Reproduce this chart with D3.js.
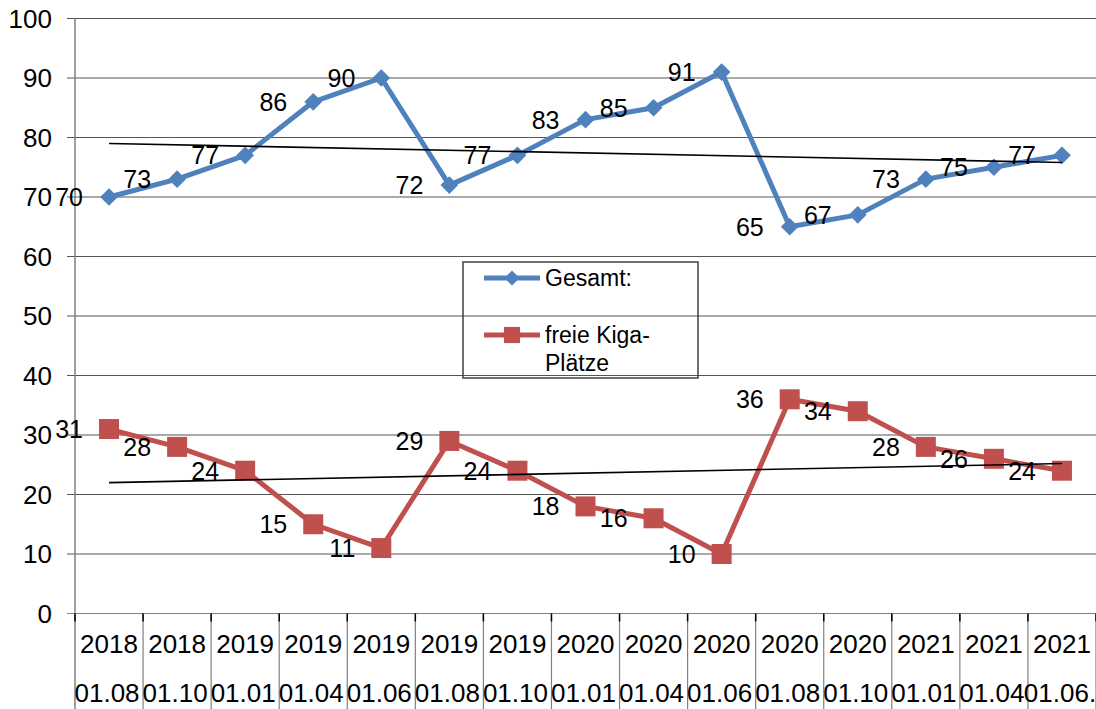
<!DOCTYPE html>
<html>
<head>
<meta charset="utf-8">
<script src="https://cdn.jsdelivr.net/npm/d3@7"></script>
<style>
  body { margin: 0; background: #fff; }
  svg { display: block; font-family: "Liberation Sans", Arial, sans-serif; }
</style>
</head>
<body>
<div id="chart"></div>
<script>
// Data
var years = ["2018", "2018", "2019", "2019", "2019", "2019", "2019", "2020", "2020", "2020", "2020", "2020", "2021", "2021", "2021"];
var dates = ["01.08", "01.10", "01.01", "01.04", "01.06", "01.08", "01.10", "01.01", "01.04", "01.06", "01.08", "01.10", "01.01", "01.04", "01.06."];
var gesamt = [70, 73, 77, 86, 90, 72, 77, 83, 85, 91, 65, 67, 73, 75, 77];
var freie = [31, 28, 24, 15, 11, 29, 24, 18, 16, 10, 36, 34, 28, 26, 24];
var yTicks = [0, 10, 20, 30, 40, 50, 60, 70, 80, 90, 100];

var width = 1096,
    height = 709;

var blue = "#4F81BD",
    red = "#C0504D";

var svg = d3.select("#chart").append("svg")
  .attr("width", width)
  .attr("height", height);

var idx = d3.range(years.length);

var x = d3.scaleBand()
  .domain(idx)
  .range([75, 1096]);

var y = d3.scaleLinear()
  .domain([0, 100])
  .range([613.5, 18.5]);

function cx(i) { return x(i) + x.bandwidth() / 2; }

// gridlines
svg.append("g").selectAll("line")
  .data(yTicks)
  .enter().append("line")
  .attr("x1", 67).attr("x2", width)
  .attr("y1", function(d) { return y(d); })
  .attr("y2", function(d) { return y(d); })
  .style("stroke", function(d) { return d == 0 ? "#808080" : "#555"; })
  .style("stroke-width", 1);

// y axis line (continues down through category area)
svg.append("line")
  .attr("x1", 75).attr("x2", 75)
  .attr("y1", y(100)).attr("y2", height)
  .style("stroke", "#808080")
  .style("stroke-width", 1.5);

// y tick labels
svg.append("g").selectAll("text")
  .data(yTicks)
  .enter().append("text")
  .attr("x", 52)
  .attr("y", function(d) { return y(d); })
  .attr("dy", "0.36em")
  .attr("text-anchor", "end")
  .style("font-size", "26px")
  .text(function(d) { return d; });

// category separators below the axis
var bounds = idx.map(function(i) { return x(i); }).concat([x(idx.length - 1) + x.bandwidth()]);
svg.append("g").selectAll("line")
  .data(bounds.slice(1))
  .enter().append("line")
  .attr("x1", function(d) { return d; })
  .attr("x2", function(d) { return d; })
  .attr("y1", y(0)).attr("y2", height)
  .style("stroke", "#808080")
  .style("stroke-width", 1.2);
svg.append("g").selectAll("line")
  .data(bounds)
  .enter().append("line")
  .attr("x1", function(d) { return d; })
  .attr("x2", function(d) { return d; })
  .attr("y1", y(0)).attr("y2", y(0) + 8)
  .style("stroke", "#000")
  .style("stroke-width", 1.5);

// category labels
svg.append("g").selectAll("text")
  .data(idx)
  .enter().append("text")
  .attr("x", cx)
  .attr("y", 653)
  .attr("text-anchor", "middle")
  .style("font-size", "26px")
  .text(function(i) { return years[i]; });
svg.append("g").selectAll("text")
  .data(idx)
  .enter().append("text")
  .attr("x", function(i) { return cx(i) - 2; })
  .attr("y", 702)
  .attr("text-anchor", "middle")
  .style("font-size", "26px")
  .text(function(i) { return dates[i]; });

// series
var line = d3.line()
  .x(function(d, i) { return cx(i); })
  .y(function(d) { return y(d); });

function drawSeries(values, color, symbol, size) {
  svg.append("path")
    .datum(values)
    .attr("d", line)
    .style("fill", "none")
    .style("stroke", color)
    .style("stroke-width", 5)
    .style("stroke-linejoin", "round");
  svg.append("g").selectAll("path")
    .data(values)
    .enter().append("path")
    .attr("transform", function(d, i) { return "translate(" + cx(i) + "," + y(d) + ")"; })
    .attr("d", d3.symbol().type(symbol).size(size))
    .style("fill", color);
}

drawSeries(gesamt, blue, d3.symbolDiamond2, 200);
drawSeries(freie, red, d3.symbolSquare, 400);

// linear trend lines
function trend(values) {
  var n = values.length;
  var xs = d3.range(1, n + 1);
  var mx = d3.mean(xs), my = d3.mean(values);
  var num = d3.sum(xs, function(v, k) { return (v - mx) * (values[k] - my); });
  var den = d3.sum(xs, function(v) { return (v - mx) * (v - mx); });
  var b = num / den, a = my - b * mx;
  return [a + b * 1, a + b * n];
}

[gesamt, freie].forEach(function(values) {
  var t = trend(values);
  svg.append("line")
    .attr("x1", cx(0)).attr("y1", y(t[0]))
    .attr("x2", cx(values.length - 1)).attr("y2", y(t[1]))
    .style("stroke", "#000")
    .style("stroke-width", 1.6);
});

// data labels (left of the points)
function drawLabels(values) {
  svg.append("g").selectAll("text")
    .data(values)
    .enter().append("text")
    .attr("x", function(d, i) { return cx(i) - 26; })
    .attr("y", function(d) { return y(d); })
    .attr("dy", "0.36em")
    .attr("text-anchor", "end")
    .style("font-size", "25px")
    .text(function(d) { return d; });
}
drawLabels(gesamt);
drawLabels(freie);

// legend
var legend = svg.append("g").attr("transform", "translate(463,262)");
legend.append("rect")
  .attr("width", 235).attr("height", 116)
  .style("fill", "none")
  .style("stroke", "#404040")
  .style("stroke-width", 1.5);

legend.append("line")
  .attr("x1", 21).attr("x2", 77).attr("y1", 16).attr("y2", 16)
  .style("stroke", blue).style("stroke-width", 5);
legend.append("path")
  .attr("transform", "translate(49,16)")
  .attr("d", d3.symbol().type(d3.symbolDiamond2).size(140))
  .style("fill", blue);
legend.append("text")
  .attr("x", 82).attr("y", 16).attr("dy", "0.36em")
  .style("font-size", "23px")
  .text("Gesamt:");

legend.append("line")
  .attr("x1", 21).attr("x2", 77).attr("y1", 73).attr("y2", 73)
  .style("stroke", red).style("stroke-width", 5);
legend.append("path")
  .attr("transform", "translate(49,73)")
  .attr("d", d3.symbol().type(d3.symbolSquare).size(260))
  .style("fill", red);
legend.append("text")
  .attr("x", 82).attr("y", 73).attr("dy", "0.36em")
  .style("font-size", "23px")
  .text("freie Kiga-");
legend.append("text")
  .attr("x", 82).attr("y", 101).attr("dy", "0.36em")
  .style("font-size", "23px")
  .text("Plätze");
</script>
</body>
</html>
